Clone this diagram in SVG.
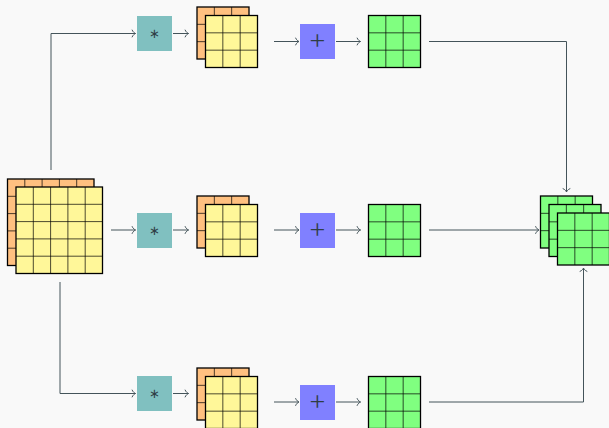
<svg xmlns="http://www.w3.org/2000/svg" xmlns:xlink="http://www.w3.org/1999/xlink" width="609" height="428" viewBox="0 0 609 428">
<style>
.conn{fill:none;stroke:#44545a;stroke-width:1;marker-end:url(#to)}
.outer{stroke:#000;stroke-width:1.3}
.inner{stroke:#000;stroke-opacity:0.7;stroke-width:1;fill:none}
.orange{fill:#ffc080}
.yellow{fill:#fff799}
.green{fill:#80ff80}
.teal{fill:#80c0c0}
.blue{fill:#8080ff}
.op{fill:#2f3d45;text-anchor:middle}
.ast{font-family:"DejaVu Sans",sans-serif;font-size:13px}
.pls{font-family:"Liberation Serif",serif;font-size:28px}
</style>
<defs>
<marker id="to" markerUnits="userSpaceOnUse" markerWidth="10" markerHeight="10" viewBox="-5 -5 10 10" refX="0" refY="0" orient="auto" overflow="visible">
<path d="M-3.5,-3.8 C-2.6,-1.4 -0.8,-0.4 0,0 C-0.8,0.4 -2.6,1.4 -3.5,3.8" fill="none" stroke="#44545a" stroke-width="1"/>
</marker>
<g id="g3">
<rect x="0" y="0" width="52" height="52" class="outer"/>
<path class="inner" d="M17.33,0V52M34.67,0V52M0,17.33H52M0,34.67H52"/>
</g>
<g id="g5">
<rect x="0" y="0" width="86.5" height="86.5" class="outer"/>
<path class="inner" d="M17.3,0V86.5M34.6,0V86.5M51.9,0V86.5M69.2,0V86.5M0,17.3H86.5M0,34.6H86.5M0,51.9H86.5M0,69.2H86.5"/>
</g>
</defs>
<rect x="0" y="0" width="609" height="428" fill="#f9f9f9"/>

<g id="input">
<use xlink:href="#g5" x="7.5" y="179" class="orange"/>
<use xlink:href="#g5" x="16" y="187" class="yellow"/>
</g>

<g id="conv1"><rect x="137" y="16" width="35" height="35" class="teal"/><text x="154.5" y="38" class="op ast">∗</text></g>
<g id="conv2"><rect x="137" y="213" width="35" height="35" class="teal"/><text x="154.5" y="235" class="op ast">∗</text></g>
<g id="conv3"><rect x="137" y="376" width="35" height="35" class="teal"/><text x="154.5" y="398" class="op ast">∗</text></g>

<g id="fmap1"><use xlink:href="#g3" x="197" y="7" class="orange"/><use xlink:href="#g3" x="205.5" y="15.5" class="yellow"/></g>
<g id="fmap2"><use xlink:href="#g3" x="197" y="196" class="orange"/><use xlink:href="#g3" x="205.5" y="204.5" class="yellow"/></g>
<g id="fmap3"><use xlink:href="#g3" x="197" y="368" class="orange"/><use xlink:href="#g3" x="205.5" y="376.5" class="yellow"/></g>

<g id="add1"><rect x="300" y="24" width="35" height="35" class="blue"/><text x="317.5" y="50" class="op pls">+</text></g>
<g id="add2"><rect x="300" y="213" width="35" height="35" class="blue"/><text x="317.5" y="239" class="op pls">+</text></g>
<g id="add3"><rect x="300" y="385" width="35" height="35" class="blue"/><text x="317.5" y="411" class="op pls">+</text></g>

<g id="out1"><use xlink:href="#g3" x="368.5" y="15.5" class="green"/></g>
<g id="out2"><use xlink:href="#g3" x="368.5" y="204.5" class="green"/></g>
<g id="out3"><use xlink:href="#g3" x="368.5" y="376.5" class="green"/></g>

<g id="stack">
<use xlink:href="#g3" x="540.5" y="196" class="green"/>
<use xlink:href="#g3" x="549" y="204.5" class="green"/>
<use xlink:href="#g3" x="557.5" y="213" class="green"/>
</g>

<g id="connectors">
<path class="conn" d="M51,170V33.5H135.5"/>
<path class="conn" d="M60,282V393.5H135.5"/>
<path class="conn" d="M111,230H135.5"/>
<path class="conn" d="M173,33.5H188.5"/>
<path class="conn" d="M173,230H188.5"/>
<path class="conn" d="M173,393.5H188.5"/>
<path class="conn" d="M274,41.5H299"/>
<path class="conn" d="M274,230H299"/>
<path class="conn" d="M274,402H299"/>
<path class="conn" d="M336,41.5H360.5"/>
<path class="conn" d="M336,230H360.5"/>
<path class="conn" d="M336,402H360.5"/>
<path class="conn" d="M429,41.5H566.5V192"/>
<path class="conn" d="M429,230H539"/>
<path class="conn" d="M429,402H583.5V268"/>
</g>
</svg>
